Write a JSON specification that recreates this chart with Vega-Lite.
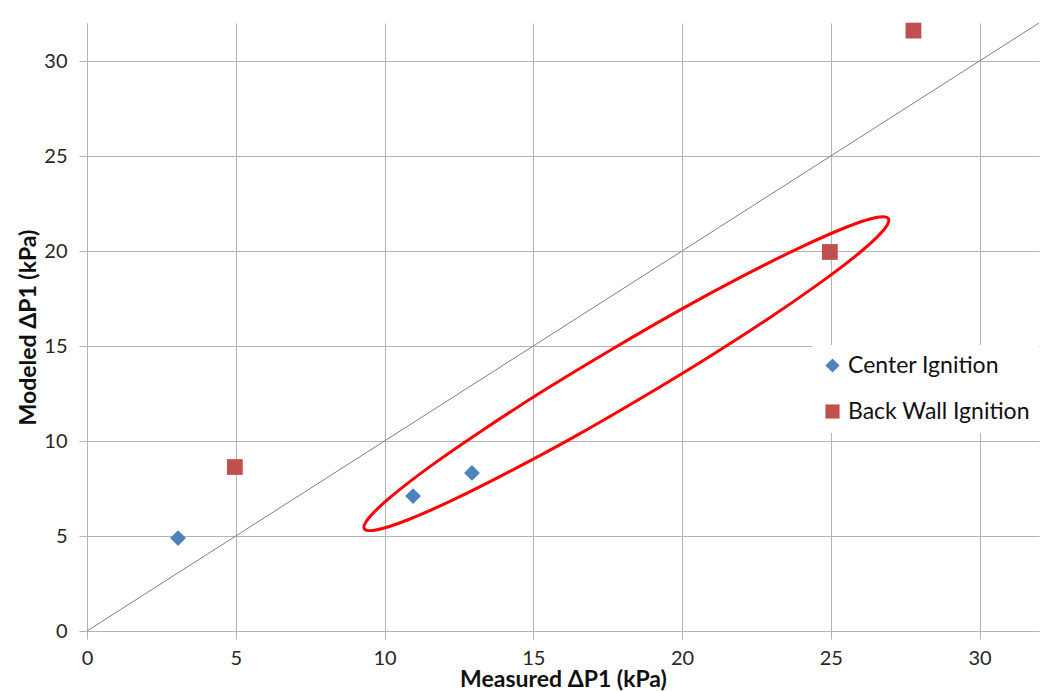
{
  "$schema": "https://vega.github.io/schema/vega-lite/v6.json",
  "width": 952,
  "height": 608,
  "autosize": {"type": "none"},
  "padding": {"left": 87, "top": 23, "right": 5, "bottom": 60},
  "background": "white",
  "config": {
    "font": "Lato",
    "view": {"stroke": null},
    "axis": {
      "gridColor": "#b3b3b3",
      "gridWidth": 1,
      "domainColor": "#b3b3b3",
      "tickColor": "#b3b3b3",
      "tickSize": 8,
      "labelFont": "Lato",
      "labelFontSize": 20,
      "labelColor": "#262626",
      "labelFlush": false,
      "titleFont": "Lato",
      "titleFontSize": 23,
      "titleFontWeight": "bold",
      "titleColor": "#111111"
    }
  },
  "datasets": {
    "diag": [{"x": 0, "y": 0}, {"x": 32, "y": 32}],
    "pts": [
      {"measured": 3.06, "modeled": 4.89, "series": "Center Ignition"},
      {"measured": 10.96, "modeled": 7.1, "series": "Center Ignition"},
      {"measured": 12.94, "modeled": 8.32, "series": "Center Ignition"},
      {"measured": 4.97, "modeled": 8.63, "series": "Back Wall Ignition"},
      {"measured": 24.97, "modeled": 19.95, "series": "Back Wall Ignition"},
      {"measured": 27.78, "modeled": 31.6, "series": "Back Wall Ignition"}
    ],
    "ellipse": [
      {"i": 0, "x": 26.94, "y": 21.70},
      {"i": 1, "x": 26.77, "y": 21.09},
      {"i": 2, "x": 26.01, "y": 19.96},
      {"i": 3, "x": 24.71, "y": 18.40},
      {"i": 4, "x": 22.96, "y": 16.50},
      {"i": 5, "x": 20.89, "y": 14.41},
      {"i": 6, "x": 18.62, "y": 12.25},
      {"i": 7, "x": 16.33, "y": 10.18},
      {"i": 8, "x": 14.15, "y": 8.35},
      {"i": 9, "x": 12.25, "y": 6.86},
      {"i": 10, "x": 10.75, "y": 5.83},
      {"i": 11, "x": 9.75, "y": 5.33},
      {"i": 12, "x": 9.32, "y": 5.38},
      {"i": 13, "x": 9.50, "y": 6.00},
      {"i": 14, "x": 10.26, "y": 7.12},
      {"i": 15, "x": 11.56, "y": 8.69},
      {"i": 16, "x": 13.31, "y": 10.58},
      {"i": 17, "x": 15.38, "y": 12.68},
      {"i": 18, "x": 17.65, "y": 14.83},
      {"i": 19, "x": 19.94, "y": 16.90},
      {"i": 20, "x": 22.12, "y": 18.74},
      {"i": 21, "x": 24.02, "y": 20.22},
      {"i": 22, "x": 25.52, "y": 21.25},
      {"i": 23, "x": 26.52, "y": 21.76}
    ]
  },
  "layer": [
    {
      "data": {"name": "diag"},
      "mark": {"type": "line", "color": "#7f7f7f", "strokeWidth": 1},
      "encoding": {
        "x": {
          "field": "x", "type": "quantitative",
          "scale": {"domain": [0, 32], "nice": false, "zero": true},
          "axis": {"values": [0, 5, 10, 15, 20, 25, 30], "title": "Measured ΔP1 (kPa)", "labelPadding": 9, "titlePadding": 0}
        },
        "y": {
          "field": "y", "type": "quantitative",
          "scale": {"domain": [0, 32], "nice": false, "zero": true},
          "axis": {"values": [0, 5, 10, 15, 20, 25, 30], "title": "Modeled ΔP1 (kPa)", "labelPadding": 12, "titlePadding": 3}
        }
      }
    },
    {
      "data": {"name": "pts"},
      "mark": {"type": "point", "filled": true, "opacity": 1},
      "encoding": {
        "x": {"field": "measured", "type": "quantitative"},
        "y": {"field": "modeled", "type": "quantitative"},
        "color": {
          "field": "series", "type": "nominal",
          "scale": {"domain": ["Center Ignition", "Back Wall Ignition"], "range": ["#4f81bd", "#c0504d"]},
          "legend": {
            "title": null, "orient": "none", "legendX": 725, "legendY": 322,
            "fillColor": "white", "padding": 9, "labelFontSize": 23, "labelFont": "Lato",
            "labelColor": "#111111", "labelLimit": 400, "symbolSize": 200, "rowPadding": 22, "labelOffset": 4
          }
        },
        "shape": {
          "field": "series", "type": "nominal",
          "scale": {"domain": ["Center Ignition", "Back Wall Ignition"], "range": ["diamond", "square"]},
          "legend": {
            "title": null, "orient": "none", "legendX": 725, "legendY": 322,
            "fillColor": "white", "padding": 9, "labelFontSize": 23, "labelFont": "Lato",
            "labelColor": "#111111", "labelLimit": 400, "symbolSize": 200, "rowPadding": 22, "labelOffset": 4
          }
        },
        "size": {"value": 250}
      }
    },
    {
      "data": {"name": "ellipse"},
      "mark": {"type": "line", "color": "#ff0000", "strokeWidth": 3, "interpolate": "cardinal-closed"},
      "encoding": {
        "x": {"field": "x", "type": "quantitative"},
        "y": {"field": "y", "type": "quantitative"},
        "order": {"field": "i", "type": "quantitative"}
      }
    }
  ]
}
